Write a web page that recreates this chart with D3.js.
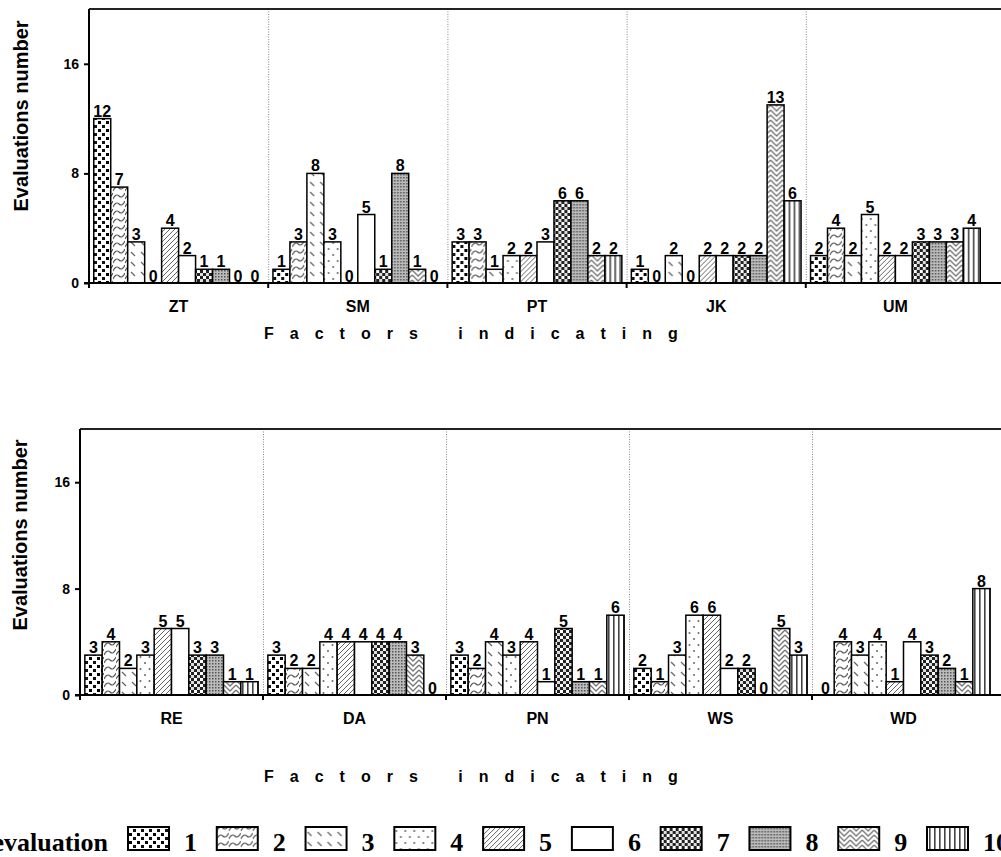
<!DOCTYPE html>
<html>
<head>
<meta charset="utf-8">
<script src="https://cdn.jsdelivr.net/npm/d3@7"></script>
<style>
    body { margin: 0; background: #fff; }
    svg { display: block; }
</style>
</head>
<body>
<div class="container"></div>
<script>
// evaluation marks 1..10, one bar per mark in every factor group
const evaluations = ['1', '2', '3', '4', '5', '6', '7', '8', '9', '10'];

const topFactors = ['ZT', 'SM', 'PT', 'JK', 'UM'];
const valuesZT = [12, 7, 3, 0, 4, 2, 1, 1, 0, 0];
const valuesSM = [1, 3, 8, 3, 0, 5, 1, 8, 1, 0];
const valuesPT = [3, 3, 1, 2, 2, 3, 6, 6, 2, 2];
const valuesJK = [1, 0, 2, 0, 2, 2, 2, 2, 13, 6];
const valuesUM = [2, 4, 2, 5, 2, 2, 3, 3, 3, 4];

const bottomFactors = ['RE', 'DA', 'PN', 'WS', 'WD'];
const valuesRE = [3, 4, 2, 3, 5, 5, 3, 3, 1, 1];
const valuesDA = [3, 2, 2, 4, 4, 4, 4, 4, 3, 0];
const valuesPN = [3, 2, 4, 3, 4, 1, 5, 1, 1, 6];
const valuesWS = [2, 1, 3, 6, 6, 2, 2, 0, 5, 3];
const valuesWD = [0, 4, 3, 4, 1, 4, 3, 2, 1, 8];

const yTicks = [0, 8, 16];
const yMax = 20;

const yTitle = 'Evaluations number';
const xTitle = 'Factors indicating';
const legendTitle = 'evaluation';

const width = 1001;
const height = 857;
const sans = '"Liberation Sans", Arial, sans-serif';
const serif = '"Liberation Serif", "Times New Roman", serif';

const svg = d3.select('.container')
    .append('svg')
    .attr('width', width)
    .attr('height', height);

// ---- hatch patterns, one per evaluation mark ----
const defs = svg.append('defs');

function pattern(id, w, h) {
    const p = defs.append('pattern')
        .attr('id', id)
        .attr('patternUnits', 'userSpaceOnUse')
        .attr('width', w)
        .attr('height', h);
    p.append('rect').attr('width', w).attr('height', h).attr('fill', '#fff');
    return p;
}

// 1: big black dots
let p = pattern('p1', 8, 8);
p.append('rect').attr('x', 1).attr('y', 1).attr('width', 3).attr('height', 3).attr('fill', '#000');
p.append('rect').attr('x', 5).attr('y', 5).attr('width', 3).attr('height', 3).attr('fill', '#111');

// 2: diagonal waves
p = pattern('p2', 12, 8);
p.append('path').attr('d', 'M0,7 Q3,1 6,4 T12,1').attr('fill', 'none')
    .attr('stroke', '#555').attr('stroke-width', 1.1);

// 3: sparse dashed backslash
p = pattern('p3', 10, 10);
p.append('line').attr('x1', 2).attr('y1', 2).attr('x2', 6).attr('y2', 6)
    .attr('stroke', '#666').attr('stroke-width', 1.3);

// 4: sparse dots
p = pattern('p4', 9, 12);
p.append('circle').attr('cx', 2).attr('cy', 3).attr('r', 1).attr('fill', '#666');
p.append('circle').attr('cx', 6.5).attr('cy', 9).attr('r', 1).attr('fill', '#666');

// 5: forward diagonals
p = pattern('p5', 5, 5);
p.append('path').attr('d', 'M-1,6 L6,-1 M-1,1 L1,-1 M4,6 L6,4')
    .attr('stroke', '#666').attr('stroke-width', 1);

// 6: plain white
pattern('p6', 4, 4);

// 7: checkerboard
p = pattern('p7', 6, 6);
p.append('rect').attr('width', 6).attr('height', 6).attr('fill', '#222');
p.append('rect').attr('x', 0).attr('y', 0).attr('width', 3).attr('height', 3).attr('fill', '#fff');
p.append('rect').attr('x', 3).attr('y', 3).attr('width', 3).attr('height', 3).attr('fill', '#ddd');

// 8: fine gray dots
p = pattern('p8', 3, 3);
p.append('rect').attr('width', 3).attr('height', 3).attr('fill', '#bbb');
p.append('rect').attr('width', 1.5).attr('height', 1.5).attr('fill', '#555');

// 9: zigzag chevrons
p = pattern('p9', 12, 10);
p.append('path').attr('d', 'M0,0 L6,6 L12,0 M0,5 L6,11 L12,5 M0,10 L6,16 L12,10 M0,-5 L6,1 L12,-5')
    .attr('fill', 'none').attr('stroke', '#777').attr('stroke-width', 1.3);

// 10: vertical stripes
p = pattern('p10', 5, 4);
p.append('rect').attr('x', 2).attr('width', 1.6).attr('height', 4).attr('fill', '#444');

const fillFor = i => `url(#p${i + 1})`;

// ---- one panel ----
function drawPanel(factors, values, cfg) {
    const g = svg.append('g');

    const x = d3.scaleBand().domain(factors).range([cfg.left, cfg.right]).padding(0);
    const inner = d3.scaleBand().domain(evaluations).range([0, x.bandwidth()])
        .paddingInner(0).paddingOuter(0.28);
    const y = d3.scaleLinear().domain([0, yMax]).range([cfg.bottom, cfg.top]);

    // dotted separators between factors
    g.selectAll('.sep')
        .data(factors.slice(1))
        .enter()
        .append('line')
        .attr('x1', d => x(d) + 0.5)
        .attr('x2', d => x(d) + 0.5)
        .attr('y1', cfg.top)
        .attr('y2', cfg.bottom)
        .attr('stroke', '#888')
        .attr('stroke-width', 1)
        .attr('stroke-dasharray', '1,1.5');

    // bars
    const groups = g.selectAll('.group')
        .data(factors.map((f, i) => ({ factor: f, vals: values[i] })))
        .enter()
        .append('g')
        .attr('transform', d => `translate(${x(d.factor)},0)`);

    groups.selectAll('rect')
        .data(d => d.vals.map((v, i) => ({ v, i })))
        .enter()
        .append('rect')
        .attr('x', d => inner(evaluations[d.i]))
        .attr('width', inner.bandwidth())
        .attr('y', d => y(d.v))
        .attr('height', d => y(0) - y(d.v))
        .attr('fill', d => fillFor(d.i))
        .attr('stroke', d => d.v > 0 ? '#000' : 'none')
        .attr('stroke-width', 1.5);

    groups.selectAll('text')
        .data(d => d.vals.map((v, i) => ({ v, i })))
        .enter()
        .append('text')
        .attr('x', d => inner(evaluations[d.i]) + inner.bandwidth() / 2)
        .attr('y', d => y(d.v) - (d.v > 0 ? 2 : 1))
        .attr('text-anchor', 'middle')
        .attr('font-family', sans)
        .attr('font-weight', 'bold')
        .attr('font-size', 16)
        .text(d => d.v);

    // frame: top line, left axis, x axis
    g.append('line')
        .attr('x1', cfg.left).attr('x2', width + 10)
        .attr('y1', cfg.top).attr('y2', cfg.top)
        .attr('stroke', '#222').attr('stroke-width', 2);

    const xAxis = g.append('g')
        .attr('transform', `translate(0,${cfg.bottom})`)
        .call(d3.axisBottom(x).tickSize(0).tickPadding(cfg.labelPad));
    xAxis.select('.domain').remove();
    xAxis.selectAll('text')
        .attr('font-family', sans)
        .attr('font-weight', 'bold')
        .attr('font-size', 16)
        .attr('fill', '#000');
    g.append('line')
        .attr('x1', cfg.left - 5).attr('x2', width + 10)
        .attr('y1', cfg.bottom).attr('y2', cfg.bottom)
        .attr('stroke', '#000').attr('stroke-width', 2);
    g.selectAll('.xtick')
        .data(factors)
        .enter()
        .append('line')
        .attr('x1', d => x(d)).attr('x2', d => x(d))
        .attr('y1', cfg.bottom).attr('y2', cfg.bottom + 5)
        .attr('stroke', '#000').attr('stroke-width', 2);

    const yAxis = g.append('g')
        .attr('transform', `translate(${cfg.left},0)`)
        .call(d3.axisLeft(y).tickValues(yTicks).tickSize(5).tickPadding(5));
    yAxis.select('.domain')
        .attr('d', `M0,${cfg.bottom + 5}V${cfg.top}`)
        .attr('stroke-width', 2);
    yAxis.selectAll('.tick line').attr('stroke-width', 2);
    yAxis.selectAll('text')
        .attr('font-family', sans)
        .attr('font-weight', 'bold')
        .attr('font-size', 14)
        .attr('fill', '#000');

    // titles
    g.append('text')
        .attr('transform', `translate(${cfg.yTitleX},${cfg.yTitleY}) rotate(-90)`)
        .attr('text-anchor', 'middle')
        .attr('font-family', sans)
        .attr('font-weight', 'bold')
        .attr('font-size', 20)
        .text(yTitle);

    g.append('text')
        .attr('x', 264)
        .attr('y', cfg.xTitleY)
        .attr('font-family', sans)
        .attr('font-weight', 'bold')
        .attr('font-size', 16)
        .attr('letter-spacing', 16)
        .attr('word-spacing', 4)
        .text(xTitle);
}

drawPanel(topFactors, [valuesZT, valuesSM, valuesPT, valuesJK, valuesUM], {
    left: 89, right: 985, top: 9, bottom: 283,
    labelPad: 18, yTitleX: 28, yTitleY: 116, xTitleY: 339,
});

drawPanel(bottomFactors, [valuesRE, valuesDA, valuesPN, valuesWS, valuesWD], {
    left: 80, right: 995, top: 429, bottom: 695,
    labelPad: 18, yTitleX: 27, yTitleY: 535, xTitleY: 782,
});

// ---- legend ----
const legendY = 851;
const legend = svg.append('g');
const lx = d3.scaleLinear().domain([0, evaluations.length - 1]).range([128, 927]);

legend.append('text')
    .attr('x', 108)
    .attr('y', legendY)
    .attr('text-anchor', 'end')
    .attr('font-family', serif)
    .attr('font-weight', 'bold')
    .attr('font-size', 26)
    .text(legendTitle);

const items = legend.selectAll('.item')
    .data(evaluations)
    .enter()
    .append('g')
    .attr('transform', (d, i) => `translate(${lx(i)},0)`);

items.append('rect')
    .attr('x', 0)
    .attr('y', legendY - 24)
    .attr('width', 41)
    .attr('height', 23)
    .attr('fill', (d, i) => fillFor(i))
    .attr('stroke', '#000')
    .attr('stroke-width', 2);

items.append('text')
    .attr('x', 56)
    .attr('y', legendY)
    .attr('font-family', serif)
    .attr('font-weight', 'bold')
    .attr('font-size', 26)
    .text(d => d);
</script>
</body>
</html>
